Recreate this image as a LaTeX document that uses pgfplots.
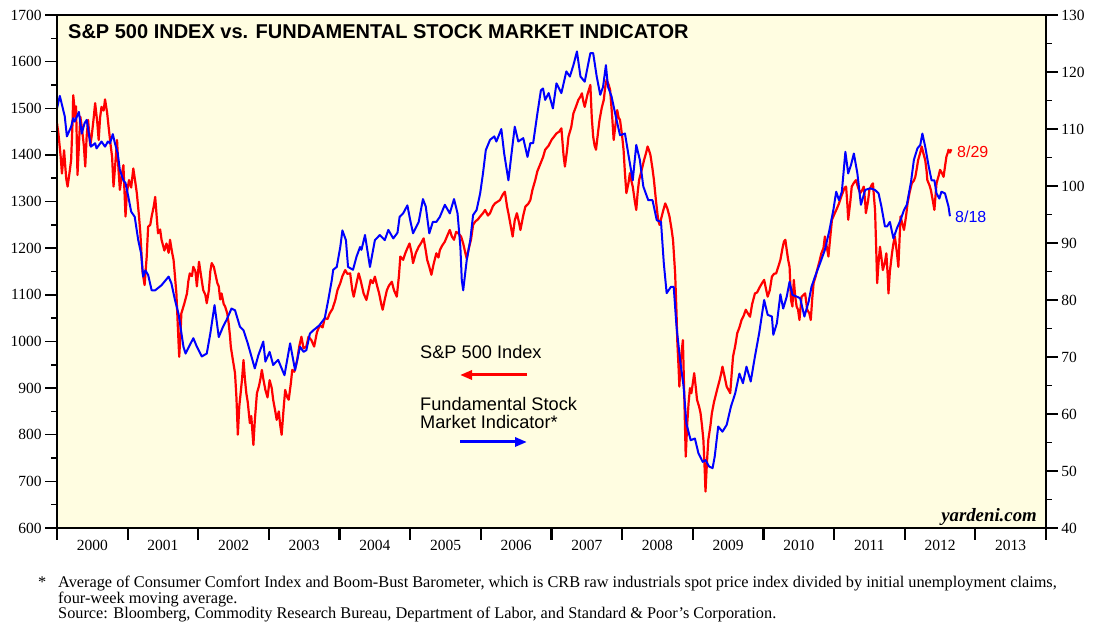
\documentclass[border=0pt]{standalone}
\usepackage{fontspec}
\setmainfont{Liberation Serif}
\newfontfamily\arial{Liberation Sans}
\usepackage{pgfplots}
\pgfplotsset{compat=1.18}
\usepackage{pgfplotstable}
\usetikzlibrary{arrows.meta}
\definecolor{bg}{RGB}{255,253,225}
\definecolor{spred}{RGB}{255,0,0}
\definecolor{fblue}{RGB}{0,0,255}

\pgfplotstableread{
year sp
2000.00 1468
2000.02 1446
2000.05 1400
2000.07 1360
2000.10 1410
2000.13 1350
2000.15 1332
2000.18 1365
2000.20 1389
2000.22 1470
2000.23 1528
2000.26 1480
2000.27 1504
2000.29 1357
2000.31 1420
2000.33 1482
2000.35 1461
2000.38 1420
2000.40 1375
2000.42 1440
2000.44 1475
2000.47 1420
2000.49 1439
2000.52 1480
2000.54 1511
2000.57 1470
2000.59 1432
2000.61 1480
2000.63 1503
2000.66 1495
2000.68 1519
2000.71 1490
2000.73 1461
2000.76 1420
2000.78 1396
2000.80 1332
2000.83 1390
2000.85 1432
2000.87 1370
2000.89 1325
2000.92 1360
2000.94 1378
2000.97 1268
2000.99 1320
2001.02 1346
2001.05 1330
2001.08 1371
2001.11 1340
2001.13 1318
2001.16 1270
2001.18 1232
2001.21 1150
2001.24 1121
2001.27 1182
2001.29 1246
2001.32 1250
2001.34 1268
2001.37 1290
2001.39 1310
2001.41 1270
2001.43 1232
2001.46 1240
2001.48 1218
2001.52 1195
2001.55 1210
2001.58 1190
2001.60 1218
2001.63 1190
2001.65 1175
2001.67 1140
2001.69 1103
2001.72 1000
2001.73 967
2001.75 1020
2001.76 1060
2001.80 1080
2001.84 1103
2001.86 1130
2001.88 1146
2001.91 1140
2001.93 1160
2001.96 1150
2001.98 1118
2002.01 1171
2002.04 1140
2002.07 1110
2002.10 1100
2002.12 1082
2002.15 1110
2002.17 1150
2002.19 1168
2002.22 1160
2002.24 1146
2002.27 1125
2002.29 1118
2002.31 1090
2002.33 1103
2002.36 1080
2002.38 1075
2002.41 1060
2002.43 1039
2002.45 1010
2002.46 989
2002.49 960
2002.52 932
2002.54 880
2002.56 800
2002.58 860
2002.59 875
2002.62 920
2002.64 960
2002.66 920
2002.68 889
2002.70 870
2002.73 825
2002.75 840
2002.78 778
2002.80 830
2002.83 889
2002.86 905
2002.88 920
2002.90 939
2002.92 920
2002.95 896
2002.98 880
2003.01 917
2003.04 900
2003.06 875
2003.09 850
2003.11 832
2003.14 850
2003.16 820
2003.18 800
2003.21 860
2003.23 896
2003.26 880
2003.28 875
2003.31 910
2003.33 939
2003.36 935
2003.40 960
2003.43 990
2003.46 1010
2003.49 985
2003.53 989
2003.56 1010
2003.60 1003
2003.64 989
2003.68 1020
2003.72 1035
2003.76 1030
2003.79 1050
2003.83 1048
2003.86 1060
2003.90 1070
2003.94 1089
2003.97 1110
2004.01 1125
2004.04 1140
2004.08 1153
2004.11 1145
2004.15 1146
2004.18 1110
2004.20 1096
2004.24 1125
2004.27 1146
2004.30 1130
2004.34 1103
2004.38 1089
2004.41 1110
2004.44 1132
2004.47 1125
2004.50 1139
2004.53 1120
2004.56 1103
2004.59 1080
2004.61 1068
2004.64 1090
2004.67 1110
2004.70 1120
2004.74 1128
2004.77 1110
2004.81 1096
2004.84 1140
2004.86 1182
2004.90 1175
2004.93 1189
2004.96 1200
2004.99 1210
2005.02 1190
2005.04 1168
2005.08 1190
2005.12 1203
2005.15 1210
2005.19 1221
2005.22 1195
2005.24 1175
2005.27 1160
2005.30 1143
2005.33 1165
2005.37 1189
2005.40 1180
2005.42 1196
2005.45 1205
2005.49 1214
2005.52 1225
2005.56 1239
2005.59 1225
2005.62 1218
2005.65 1235
2005.68 1232
2005.72 1225
2005.75 1210
2005.78 1190
2005.80 1178
2005.83 1200
2005.86 1218
2005.89 1250
2005.92 1257
2005.96 1262
2005.99 1268
2006.03 1275
2006.06 1282
2006.10 1270
2006.13 1275
2006.17 1290
2006.20 1296
2006.24 1300
2006.27 1303
2006.31 1315
2006.34 1321
2006.37 1290
2006.39 1275
2006.42 1250
2006.45 1225
2006.48 1260
2006.51 1275
2006.54 1255
2006.56 1239
2006.60 1270
2006.63 1289
2006.67 1295
2006.70 1303
2006.73 1325
2006.77 1346
2006.80 1365
2006.84 1380
2006.88 1395
2006.91 1411
2006.96 1420
2007.00 1432
2007.04 1440
2007.07 1446
2007.11 1450
2007.14 1457
2007.17 1400
2007.19 1375
2007.22 1410
2007.24 1439
2007.28 1460
2007.31 1489
2007.35 1505
2007.38 1518
2007.41 1525
2007.43 1532
2007.45 1515
2007.47 1503
2007.51 1530
2007.55 1550
2007.57 1480
2007.59 1439
2007.61 1420
2007.63 1411
2007.66 1450
2007.68 1475
2007.71 1500
2007.74 1518
2007.76 1545
2007.78 1561
2007.81 1550
2007.83 1539
2007.86 1480
2007.88 1432
2007.91 1470
2007.93 1496
2007.95 1480
2007.97 1475
2008.00 1440
2008.02 1411
2008.04 1360
2008.06 1318
2008.09 1340
2008.11 1361
2008.13 1345
2008.15 1332
2008.18 1300
2008.20 1282
2008.22 1320
2008.24 1346
2008.28 1370
2008.31 1389
2008.34 1405
2008.36 1418
2008.38 1410
2008.40 1400
2008.43 1370
2008.45 1346
2008.48 1300
2008.51 1260
2008.53 1250
2008.56 1268
2008.58 1280
2008.61 1296
2008.64 1285
2008.67 1268
2008.70 1240
2008.72 1218
2008.74 1170
2008.75 1146
2008.77 1060
2008.78 1003
2008.80 940
2008.81 903
2008.83 960
2008.86 1003
2008.88 880
2008.90 753
2008.92 820
2008.94 867
2008.96 900
2008.98 889
2009.00 910
2009.02 932
2009.04 905
2009.06 875
2009.09 860
2009.11 846
2009.13 820
2009.15 789
2009.17 720
2009.18 678
2009.20 740
2009.22 789
2009.25 820
2009.27 846
2009.30 870
2009.32 882
2009.35 900
2009.38 917
2009.40 930
2009.42 946
2009.45 925
2009.48 903
2009.51 895
2009.53 889
2009.55 930
2009.57 968
2009.60 990
2009.63 1018
2009.66 1030
2009.69 1046
2009.72 1055
2009.75 1068
2009.78 1060
2009.81 1053
2009.84 1080
2009.88 1103
2009.91 1105
2009.95 1117
2009.98 1125
2010.01 1132
2010.04 1110
2010.06 1096
2010.09 1110
2010.12 1139
2010.15 1145
2010.18 1146
2010.21 1160
2010.24 1175
2010.27 1200
2010.29 1214
2010.31 1218
2010.33 1196
2010.35 1175
2010.37 1160
2010.39 1089
2010.41 1075
2010.43 1132
2010.45 1096
2010.47 1075
2010.49 1068
2010.51 1046
2010.54 1096
2010.57 1100
2010.59 1103
2010.62 1068
2010.65 1060
2010.67 1046
2010.69 1090
2010.71 1125
2010.74 1140
2010.76 1153
2010.79 1170
2010.82 1189
2010.85 1200
2010.87 1225
2010.90 1200
2010.92 1182
2010.95 1230
2010.97 1261
2011.01 1275
2011.04 1285
2011.07 1296
2011.10 1310
2011.12 1318
2011.15 1330
2011.17 1332
2011.19 1290
2011.20 1261
2011.23 1300
2011.25 1332
2011.28 1340
2011.31 1346
2011.34 1330
2011.37 1318
2011.40 1325
2011.42 1332
2011.44 1300
2011.45 1275
2011.48 1300
2011.50 1325
2011.53 1335
2011.55 1339
2011.57 1300
2011.58 1282
2011.60 1180
2011.61 1125
2011.63 1170
2011.65 1203
2011.67 1180
2011.69 1153
2011.72 1170
2011.74 1189
2011.76 1140
2011.77 1103
2011.79 1150
2011.82 1189
2011.84 1210
2011.86 1225
2011.89 1190
2011.91 1160
2011.93 1230
2011.94 1268
2011.97 1250
2011.99 1239
2012.02 1270
2012.04 1296
2012.07 1320
2012.10 1339
2012.13 1345
2012.15 1353
2012.17 1370
2012.19 1389
2012.22 1405
2012.24 1418
2012.27 1400
2012.29 1389
2012.31 1365
2012.32 1346
2012.35 1335
2012.37 1325
2012.40 1300
2012.42 1282
2012.44 1320
2012.45 1339
2012.48 1355
2012.50 1368
2012.53 1360
2012.55 1353
2012.57 1375
2012.59 1396
2012.61 1405
2012.62 1411
2012.64 1405
2012.66 1412
}\sptable

\pgfplotstableread{
year fsmi
2000.00 113.6
2000.04 115.8
2000.11 112.2
2000.14 108.7
2000.20 110.4
2000.23 111.9
2000.25 111.3
2000.31 113.0
2000.35 109.2
2000.39 111.0
2000.42 111.6
2000.48 106.9
2000.54 107.5
2000.56 106.6
2000.63 107.8
2000.68 106.9
2000.72 107.8
2000.75 107.5
2000.79 109.1
2000.82 107.5
2000.86 105.7
2000.89 102.8
2000.94 101.0
2000.97 100.5
2001.01 98.1
2001.05 95.5
2001.10 94.6
2001.15 90.5
2001.19 88.2
2001.22 84.1
2001.25 85.2
2001.29 84.4
2001.34 81.7
2001.39 81.7
2001.48 82.6
2001.58 84.1
2001.62 82.9
2001.67 80.0
2001.72 77.6
2001.79 71.8
2001.82 70.6
2001.88 72.1
2001.93 73.3
2001.98 71.8
2002.05 70.1
2002.12 70.6
2002.17 74.1
2002.23 79.1
2002.29 73.5
2002.35 75.3
2002.40 76.5
2002.47 78.5
2002.52 78.2
2002.59 75.3
2002.64 74.7
2002.70 72.4
2002.80 68.0
2002.85 70.3
2002.92 72.7
2002.95 69.2
2003.01 70.9
2003.06 68.6
2003.13 69.5
2003.22 66.8
2003.30 72.4
2003.37 67.7
2003.44 71.8
2003.49 70.9
2003.53 71.2
2003.58 74.1
2003.63 74.7
2003.71 75.5
2003.79 76.8
2003.84 80.0
2003.89 83.5
2003.91 85.3
2003.96 85.8
2004.01 89.3
2004.04 92.2
2004.09 90.5
2004.12 85.8
2004.19 85.3
2004.24 87.6
2004.29 89.3
2004.31 88.8
2004.36 91.4
2004.43 85.8
2004.50 90.5
2004.57 91.4
2004.64 90.5
2004.69 92.3
2004.76 90.8
2004.82 91.8
2004.85 94.6
2004.90 95.2
2004.96 96.6
2005.00 94.0
2005.04 91.7
2005.12 93.7
2005.18 97.7
2005.22 96.4
2005.27 91.7
2005.32 93.7
2005.37 93.7
2005.42 94.6
2005.49 96.7
2005.56 95.2
2005.62 97.7
2005.67 95.2
2005.71 89.3
2005.73 83.5
2005.75 81.7
2005.80 87.0
2005.85 90.5
2005.89 94.9
2005.94 95.8
2005.99 98.7
2006.03 102.2
2006.07 106.3
2006.13 108.1
2006.19 108.7
2006.22 107.8
2006.29 110.0
2006.33 105.7
2006.39 101.0
2006.44 106.3
2006.48 110.4
2006.53 107.8
2006.60 108.4
2006.66 105.1
2006.70 107.5
2006.74 107.5
2006.80 112.7
2006.85 116.8
2006.88 117.1
2006.91 115.1
2006.96 116.3
2007.02 113.6
2007.07 118.0
2007.14 116.3
2007.21 120.1
2007.26 119.2
2007.31 121.2
2007.36 123.6
2007.41 119.2
2007.47 118.3
2007.55 123.3
2007.59 123.3
2007.64 119.2
2007.69 116.0
2007.73 117.4
2007.77 121.2
2007.80 117.4
2007.85 115.7
2007.91 112.2
2007.97 108.9
2008.04 109.2
2008.09 105.4
2008.15 101.0
2008.20 107.2
2008.25 104.6
2008.30 99.9
2008.37 97.5
2008.43 97.5
2008.49 94.0
2008.55 93.7
2008.59 86.4
2008.63 81.2
2008.69 82.3
2008.73 82.3
2008.77 75.3
2008.82 69.5
2008.87 64.8
2008.91 58.3
2008.97 55.4
2009.03 55.7
2009.08 53.1
2009.14 51.6
2009.18 51.9
2009.23 50.8
2009.28 50.5
2009.31 52.5
2009.36 57.8
2009.42 56.9
2009.48 58.1
2009.54 61.3
2009.60 63.6
2009.66 67.1
2009.71 65.4
2009.76 68.3
2009.82 65.7
2009.88 70.1
2009.94 74.2
2010.01 80.0
2010.06 77.4
2010.12 77.1
2010.14 73.9
2010.19 75.9
2010.24 81.0
2010.28 78.5
2010.33 80.6
2010.37 83.2
2010.41 80.9
2010.47 80.6
2010.52 80.3
2010.58 77.1
2010.64 79.7
2010.68 82.3
2010.73 84.1
2010.80 86.4
2010.87 88.8
2010.93 92.0
2010.99 95.8
2011.03 99.0
2011.07 97.5
2011.11 99.0
2011.16 106.0
2011.20 102.2
2011.24 103.7
2011.28 105.7
2011.33 102.2
2011.38 96.7
2011.44 99.3
2011.51 99.6
2011.58 99.3
2011.63 98.7
2011.67 96.4
2011.72 92.9
2011.75 92.9
2011.79 93.7
2011.84 90.8
2011.89 92.6
2011.94 94.0
2011.99 95.8
2012.03 96.7
2012.09 100.8
2012.13 104.6
2012.18 106.6
2012.22 107.2
2012.25 109.2
2012.29 106.9
2012.34 103.4
2012.38 101.0
2012.42 101.0
2012.45 98.7
2012.49 97.8
2012.52 99.0
2012.57 98.7
2012.62 96.4
2012.64 94.7
}\fsmitable

\pgfplotsset{
  common/.style={
    at={(57pt,100pt)}, anchor=south west, scale only axis,
    width=989pt, height=513pt,
    xmin=2000, xmax=2014,
    tick align=outside,
    major tick length=12pt, minor tick length=6pt,
    every tick/.style={black, line width=1.5pt},
    tick label style={font=\fontsize{15.5}{15.5}\selectfont},
    /pgf/number format/assume math mode=true,
    /pgf/number format/1000 sep={},
  }
}

\begin{document}
\begin{tikzpicture}
\useasboundingbox (0pt,0pt) rectangle (1101pt,628pt);
\begin{axis}[common,
  ymin=600, ymax=1700,
  axis background/.style={fill=bg},
  axis line style={line width=2.5pt},
  ytick={600,700,...,1700}, minor y tick num=1, ytick pos=left,
  xtick={2000,2001,...,2014}, xtick pos=lower,
  xticklabels={2000,2001,2002,2003,2004,2005,2006,2007,2008,2009,2010,2011,2012,2013},
  x tick label as interval,
  xticklabel style={yshift=3pt},
  x tick style={line width=2.2pt},
]
\addplot[color=spred, line width=2.2pt, line join=round] table[x=year, y=sp] {\sptable};
\end{axis}
\begin{axis}[common,
  ymin=40, ymax=130,
  axis y line*=right, hide x axis,
  axis line style={line width=2.5pt},
  ytick={40,50,...,130}, minor y tick num=1,
]
\addplot[color=fblue, line width=2pt, line join=round] table[x=year, y=fsmi] {\fsmitable};
\draw[line width=2.5pt] (rel axis cs:0,0) rectangle (rel axis cs:1,1);
\end{axis}

\node[anchor=base west, inner sep=0pt, font=\arial\bfseries\fontsize{20}{20}\selectfont] at (68pt,589.7pt) {S\&P 500 INDEX vs. FUNDAMENTAL STOCK MARKET INDICATOR};

\node[anchor=west, inner sep=0pt, font=\arial\fontsize{18.2}{18.2}\selectfont] at (420pt,276pt) {S\&P 500 Index};
\draw[spred, line width=3pt, -{Triangle[length=12pt,width=9pt]}] (527pt,253pt) -- (460pt,253pt);
\node[anchor=north west, inner sep=0pt, align=left, font=\arial\fontsize{18.2}{18}\selectfont] at (420pt,231pt) {Fundamental Stock\\Market Indicator*};
\draw[fblue, line width=3pt, -{Triangle[length=12pt,width=9pt]}] (460pt,186pt) -- (527pt,186pt);

\node[anchor=west, inner sep=0pt, text=spred, font=\arial\fontsize{16}{16}\selectfont] at (957pt,476pt) {8/29};
\node[anchor=west, inner sep=0pt, text=fblue, font=\arial\fontsize{16}{16}\selectfont] at (955pt,411pt) {8/18};

\node[anchor=base east, inner sep=0pt, font=\bfseries\itshape\fontsize{18.8}{18.8}\selectfont] at (1037pt,106.3pt) {yardeni.com};

\node[anchor=base west, inner sep=0pt, font=\fontsize{16.3}{16.3}\selectfont] at (38pt,40.7pt) {*};
\node[anchor=north west, inner sep=0pt, align=left, font=\fontsize{16.3}{15.5}\selectfont] at (58pt,51.8pt) {Average of Consumer Comfort Index and Boom-Bust Barometer, which is CRB raw industrials spot price index divided by initial unemployment claims,\\four-week moving average.\\Source: Bloomberg, Commodity Research Bureau, Department of Labor, and Standard \& Poor's Corporation.};
\end{tikzpicture}
\end{document}
